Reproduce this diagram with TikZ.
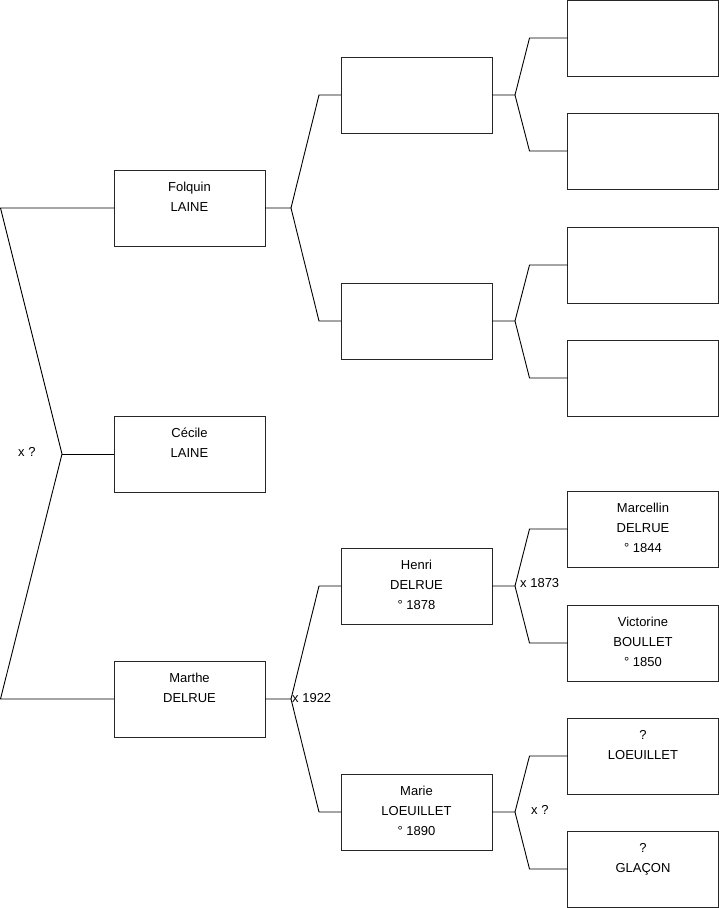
\documentclass[tikz,border=0pt]{standalone}
\usepackage{fontspec}
\setmainfont{Liberation Sans}
\newcommand{\boxtxt}[1]{\parbox[c][76pt][t]{151pt}{\centering\fontsize{13pt}{20pt}\selectfont\rule{0pt}{21.8pt}#1}}
\begin{document}
\begin{tikzpicture}[x=1pt,y=-1pt,
  pbox/.style={draw=black!85, line width=1pt, minimum width=151pt, minimum height=76pt, inner sep=0pt, outer sep=0pt},
  conn/.style={draw=black, line width=0.9pt},
  lbl/.style={font=\fontsize{13pt}{15pt}\selectfont, inner sep=0pt, anchor=west}]
\useasboundingbox (0,0) rectangle (719,908);
% generation 1
\node[pbox] (f) at (189.5,208) {\boxtxt{Folquin\\LAINE}};
\node[pbox] (c) at (189.5,454) {\boxtxt{Cécile\\LAINE}};
\node[pbox] (m) at (189.5,699) {\boxtxt{Marthe\\DELRUE}};
% generation 2
\node[pbox] (ff) at (416.5,95) {\boxtxt{}};
\node[pbox] (fm) at (416.5,321) {\boxtxt{}};
\node[pbox] (h) at (416.5,586) {\boxtxt{Henri\\DELRUE\\° 1878}};
\node[pbox] (ma) at (416.5,812) {\boxtxt{Marie\\LOEUILLET\\° 1890}};
% generation 3
\node[pbox] (fff) at (643,38) {\boxtxt{}};
\node[pbox] (ffm) at (643,151) {\boxtxt{}};
\node[pbox] (fmf) at (643,265) {\boxtxt{}};
\node[pbox] (fmm) at (643,378) {\boxtxt{}};
\node[pbox] (hf) at (643,529) {\boxtxt{Marcellin\\DELRUE\\° 1844}};
\node[pbox] (hm) at (643,643) {\boxtxt{Victorine\\BOULLET\\° 1850}};
\node[pbox] (maf) at (643,756) {\boxtxt{?\\LOEUILLET}};
\node[pbox] (mam) at (643,869) {\boxtxt{?\\GLAÇON}};
% root fork
\coordinate (rt) at (0.5,208);
\coordinate (rv) at (62,454);
\coordinate (rb) at (0.5,699);
\draw[conn] (f.west) -- (rt) -- (rv) -- (rb) -- (m.west);
\draw[conn] (rv) -- (c.west);
\node[lbl] (lr) at (18,452) {x ?};
% gen1 -> gen2 forks
\draw[conn] (f.east) -- ++(26,0) coordinate (fv) -- ([xshift=-22pt]ff.west) -- (ff.west);
\draw[conn] (fv) -- ([xshift=-22pt]fm.west) -- (fm.west);
\draw[conn] (m.east) -- ++(26,0) coordinate (mv) -- ([xshift=-22pt]h.west) -- (h.west);
\draw[conn] (mv) -- ([xshift=-22pt]ma.west) -- (ma.west);
\node[lbl] (lm) at (292,698) {x 1922};
% gen2 -> gen3 forks
\draw[conn] (ff.east) -- ++(23,0) coordinate (ffv) -- ([xshift=-38pt]fff.west) -- (fff.west);
\draw[conn] (ffv) -- ([xshift=-38pt]ffm.west) -- (ffm.west);
\draw[conn] (fm.east) -- ++(23,0) coordinate (fmv) -- ([xshift=-38pt]fmf.west) -- (fmf.west);
\draw[conn] (fmv) -- ([xshift=-38pt]fmm.west) -- (fmm.west);
\draw[conn] (h.east) -- ++(23,0) coordinate (hv) -- ([xshift=-38pt]hf.west) -- (hf.west);
\draw[conn] (hv) -- ([xshift=-38pt]hm.west) -- (hm.west);
\node[lbl] (lh) at (520,583) {x 1873};
\draw[conn] (ma.east) -- ++(23,0) coordinate (mav) -- ([xshift=-38pt]maf.west) -- (maf.west);
\draw[conn] (mav) -- ([xshift=-38pt]mam.west) -- (mam.west);
\node[lbl] (lma) at (531,810) {x ?};
\end{tikzpicture}
\end{document}
